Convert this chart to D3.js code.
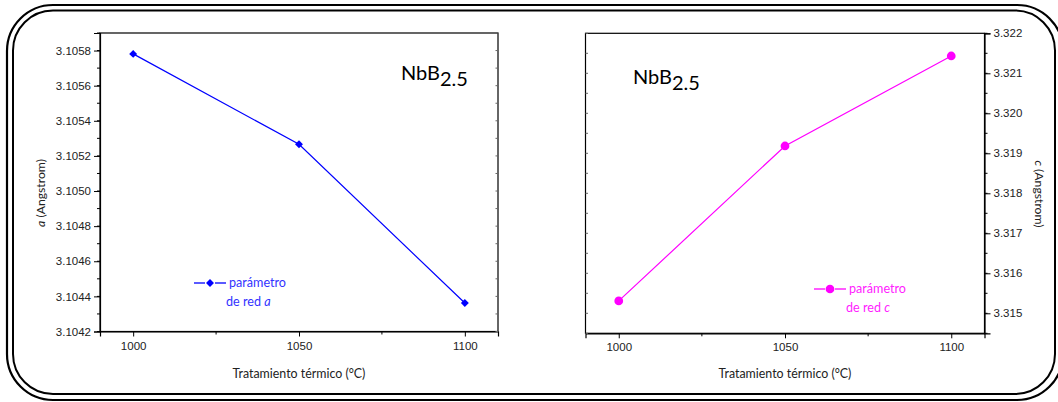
<!DOCTYPE html>
<html>
<head>
<meta charset="utf-8">
<script src="https://cdn.jsdelivr.net/npm/d3@7"></script>
<style>
  html, body { margin: 0; padding: 0; background: #fff; }
  svg { display: block; }
</style>
</head>
<body>
<svg id="chart" width="1058" height="402"></svg>
<script>
// Heat-treatment temperatures (°C)
const temperatures = [1000, 1050, 1100];
// Lattice parameter a (Å) for NbB2.5
const latticeA = [3.105781, 3.105266, 3.104362];
// Lattice parameter c (Å) for NbB2.5
const latticeC = [3.31531, 3.319183, 3.321433];
// Axis tick values
const xTicks = [1000, 1050, 1100];
const aTicks = [3.1042, 3.1044, 3.1046, 3.1048, 3.1050, 3.1052, 3.1054, 3.1056, 3.1058];
const cTicks = [3.315, 3.316, 3.317, 3.318, 3.319, 3.320, 3.321, 3.322];

const svg = d3.select("#chart");
const tickFont = "'Liberation Sans', Arial, sans-serif";
const textFont = "Lato, 'Open Sans', sans-serif";

// Double rounded frame around the figure
svg.append("rect").attr("x", 7).attr("y", 5).attr("width", 1056).attr("height", 395)
  .attr("rx", 46).attr("ry", 46).attr("fill", "none").attr("stroke", "#000").attr("stroke-width", 2.2);
svg.append("rect").attr("x", 13).attr("y", 10.5).attr("width", 1042).attr("height", 383.5)
  .attr("rx", 40).attr("ry", 40).attr("fill", "none").attr("stroke", "#000").attr("stroke-width", 2);

function drawPanel(cfg) {
  const { left, right, top, bottom, values, yDomain, yTicks, yFmt, yMinorStep,
          color, legColor, marker, axisSide, yTitle, titleX, titleY, legendX, legendY, legendVar, labelX, labelY } = cfg;
  const g = svg.append("g");
  const x = d3.scaleLinear().domain([990, 1110]).range([left, right]);
  const y = d3.scaleLinear().domain(yDomain).range([bottom, top]);

  // minor tick positions
  const minor = d3.range(yDomain[0] - 1e-9, yDomain[1] + 1e-9, yMinorStep)
    .map(v => +v.toFixed(6)).filter(v => v >= yDomain[0] && v <= yDomain[1]);
  const xMinor = [1025, 1075];

  // plot frame
  g.append("rect").attr("x", left).attr("y", top).attr("width", right - left).attr("height", bottom - top)
    .attr("fill", "none").attr("stroke", "#000").attr("stroke-width", 1.2);

  // bottom axis
  const xAxis = g.append("g").attr("transform", `translate(0,${bottom})`)
    .call(d3.axisBottom(x).tickValues(xTicks).tickSize(5).tickPadding(5).tickFormat(d3.format("d")));
  xAxis.select(".domain").attr("stroke-width", 1.2);
  xAxis.selectAll("text").attr("font-family", tickFont).attr("font-size", "11.5px").attr("fill", "#222");
  g.selectAll(".xminor").data(xMinor).join("line")
    .attr("x1", d => x(d)).attr("x2", d => x(d)).attr("y1", bottom).attr("y2", bottom + 3)
    .attr("stroke", "#000").attr("stroke-width", 1);

  // value axis
  const axisX = axisSide === "left" ? left : right;
  const otherX = axisSide === "left" ? right : left;
  const gen = axisSide === "left" ? d3.axisLeft(y) : d3.axisRight(y);
  const yAxis = g.append("g").attr("transform", `translate(${axisX},0)`)
    .call(gen.tickValues(yTicks).tickSize(6).tickPadding(3).tickFormat(yFmt));
  yAxis.select(".domain").attr("stroke-width", 1.2);
  yAxis.selectAll("text").attr("font-family", tickFont).attr("font-size", "11.5px").attr("fill", "#222");
  const dir = axisSide === "left" ? -1 : 1;
  g.selectAll(".yminor").data(minor).join("line")
    .attr("x1", axisX).attr("x2", axisX + dir * 3).attr("y1", d => y(d)).attr("y2", d => y(d))
    .attr("stroke", "#000").attr("stroke-width", 1);
  // small inner ticks on the opposite side
  g.selectAll(".yinner").data(minor).join("line")
    .attr("x1", otherX).attr("x2", otherX + dir * 2.5).attr("y1", d => y(d)).attr("y2", d => y(d))
    .attr("stroke", "#666").attr("stroke-width", 1);

  // axis titles
  g.append("text").attr("x", (left + right) / 2).attr("y", 378).attr("text-anchor", "middle")
    .attr("font-family", textFont).attr("font-size", "12.4px").attr("fill", "#222")
    .text("Tratamiento térmico (°C)");
  const rot = axisSide === "left" ? -90 : 90;
  const yt = g.append("text").attr("transform", `translate(${titleX},${titleY}) rotate(${rot})`)
    .attr("text-anchor", "middle").attr("font-family", textFont).attr("font-size", "12.2px").attr("fill", "#222");
  yt.append("tspan").attr("font-style", "italic").text(yTitle);
  yt.append("tspan").text(" (Angstrom)");

  // data line and markers
  const pts = temperatures.map((t, i) => [t, values[i]]);
  g.append("path").datum(pts)
    .attr("d", d3.line().x(d => x(d[0])).y(d => y(d[1])))
    .attr("fill", "none").attr("stroke", color).attr("stroke-width", 1.2);
  const sym = d3.symbol().type(marker === "diamond" ? d3.symbolDiamond2 : d3.symbolCircle)
    .size(marker === "diamond" ? 40 : 60);
  g.selectAll(".pt").data(pts).join("path")
    .attr("transform", d => `translate(${x(d[0])},${y(d[1])})`)
    .attr("d", sym).attr("fill", color);

  // legend: line segments either side of the marker
  [[-16, -5], [5, 16]].forEach(([a, b]) => {
    g.append("line").attr("x1", legendX + a).attr("x2", legendX + b).attr("y1", legendY).attr("y2", legendY)
      .attr("stroke", color).attr("stroke-width", 1.3);
  });
  g.append("path").attr("transform", `translate(${legendX},${legendY})`).attr("d", sym).attr("fill", color);
  g.append("text").attr("x", legendX + 19).attr("y", legendY + 4)
    .attr("font-family", textFont).attr("font-size", "12.6px").attr("fill", legColor).text("parámetro");
  const l2 = g.append("text").attr("x", legendX + 16).attr("y", legendY + 23)
    .attr("font-family", textFont).attr("font-size", "12.6px").attr("fill", legColor);
  l2.append("tspan").text("de red ");
  l2.append("tspan").attr("font-style", "italic").text(legendVar);

  // compound label
  const lab = g.append("text").attr("x", labelX).attr("y", labelY)
    .attr("font-family", textFont).attr("font-size", "20px").attr("fill", "#000");
  lab.append("tspan").text("NbB");
  lab.append("tspan").attr("dy", 6).text("2.5");
}

drawPanel({
  left: 100, right: 498, top: 33, bottom: 331.5,
  values: latticeA, yDomain: [3.1042, 3.1059], yTicks: aTicks, yFmt: d3.format(".4f"), yMinorStep: 0.0001,
  color: "#0000ff", legColor: "#3333ff", marker: "diamond", axisSide: "left",
  yTitle: "a", titleX: 45, titleY: 193,
  legendX: 210, legendY: 283, legendVar: "a",
  labelX: 401, labelY: 80
});

drawPanel({
  left: 585.5, right: 984.5, top: 33.3, bottom: 333.3,
  values: latticeC, yDomain: [3.3145, 3.322], yTicks: cTicks, yFmt: d3.format(".3f"), yMinorStep: 0.0005,
  color: "#ff00ff", legColor: "#ff22ff", marker: "circle", axisSide: "right",
  yTitle: "c", titleX: 1035, titleY: 194,
  legendX: 830, legendY: 289, legendVar: "c",
  labelX: 633, labelY: 84
});
</script>
</body>
</html>
